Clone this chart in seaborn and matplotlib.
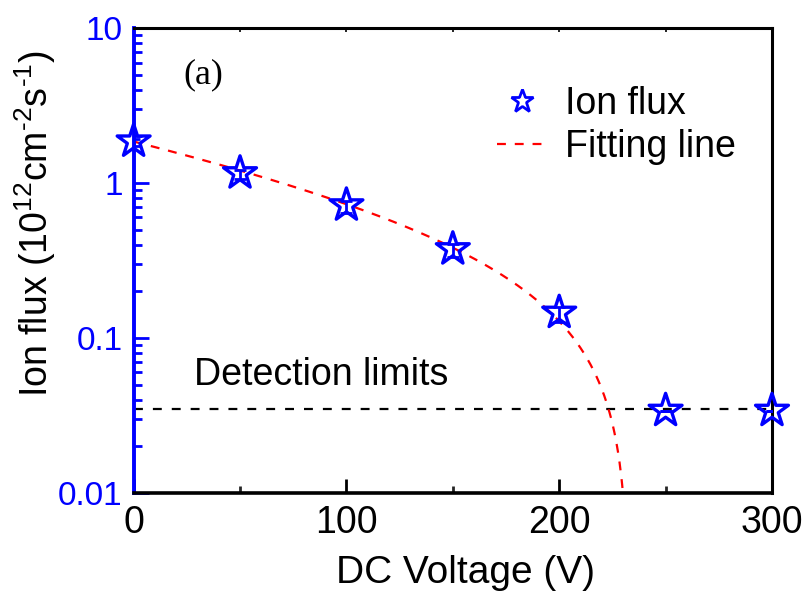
import numpy as np
import pandas as pd
import matplotlib
matplotlib.use("Agg")
import matplotlib.pyplot as plt
from matplotlib.lines import Line2D
from matplotlib.ticker import FixedLocator, NullFormatter, LogLocator
import seaborn as sns

# Measured ion flux versus DC bias voltage
voltage = [0, 50, 100, 150, 200, 250, 300]
ion_flux = [1.86, 1.16, 0.72, 0.375, 0.146, 0.034, 0.034]
err_low = [0.12, 0.10, 0.08, 0.04, 0.02, 0.0, 0.0]
err_high = [0.06, 0.06, 0.05, 0.03, 0.012, 0.0, 0.0]

# Exponential-decay fit: flux = A * exp(-V / t) - d
fit_A = 2.42
fit_t = 160.0
fit_d = 0.565
detection_limit = 0.035

x_ticks = [0, 100, 200, 300]
y_ticks = [0.01, 0.1, 1, 10]
y_tick_labels = ["0.01", "0.1", "1", "10"]

sns.set_theme(style="white")
plt.rcParams["font.family"] = ["Liberation Sans", "DejaVu Sans"]
plt.rcParams["mathtext.fontset"] = "custom"
plt.rcParams["mathtext.rm"] = "Liberation Sans"
plt.rcParams["mathtext.it"] = "Liberation Sans"
plt.rcParams["text.color"] = "black"
plt.rcParams["axes.labelcolor"] = "black"

fig = plt.figure(figsize=(8.05, 5.99), dpi=100)
ax = fig.add_axes([0.166, 0.177, 0.793, 0.776])

df = pd.DataFrame({"V": voltage, "flux": ion_flux})

# Fitted curve, cut where it falls below the axis floor
v_fit = np.linspace(0, 240, 600)
f_fit = fit_A * np.exp(-v_fit / fit_t) - fit_d
mask = f_fit > 0.008
fit_df = pd.DataFrame({"V": v_fit[mask], "flux": f_fit[mask]})
sns.lineplot(data=fit_df, x="V", y="flux", ax=ax, color="red",
             linestyle=(0, (4, 4)), linewidth=1.6, zorder=3)

# Detection limit
det_df = pd.DataFrame({"V": [0, 300], "flux": [detection_limit, detection_limit]})
sns.lineplot(data=det_df, x="V", y="flux", ax=ax, color="black",
             linestyle=(0, (4, 4.5)), linewidth=1.6, zorder=2)

# Error bars
ax.errorbar(voltage, ion_flux, yerr=[err_low, err_high], fmt="none",
            ecolor="blue", elinewidth=2, capsize=4, capthick=2, zorder=4)

# Data points
sns.scatterplot(data=df, x="V", y="flux", ax=ax, marker="*", s=620,
                facecolor="none", edgecolor="blue", linewidth=2.4,
                zorder=5, clip_on=False)

ax.set_yscale("log")
ax.set_xlim(0, 300)
ax.set_ylim(0.01, 10)

ax.set_xticks(x_ticks)
ax.set_xticklabels([str(v) for v in x_ticks])
ax.xaxis.set_minor_locator(FixedLocator([50, 150, 250]))
ax.set_yticks(y_ticks)
ax.set_yticklabels(y_tick_labels)
ax.yaxis.set_minor_locator(LogLocator(base=10, subs=np.arange(2, 10)))
ax.yaxis.set_minor_formatter(NullFormatter())

ax.tick_params(axis="x", which="major", direction="in", length=10, width=2,
               labelsize=27, color="black", labelcolor="black", pad=9,
               bottom=True, top=False)
ax.tick_params(axis="x", which="minor", direction="in", length=5, width=2,
               bottom=True, top=False)
ax.tick_params(axis="y", which="major", direction="in", length=11, width=2,
               labelsize=24, color="blue", labelcolor="blue", pad=8,
               left=True, right=False)
ax.tick_params(axis="y", which="minor", direction="in", length=6, width=2,
               color="blue", left=True, right=False)

# Short ticks along the top frame every 50 V
top = ax.secondary_xaxis("top")
top.set_xticks([0, 50, 100, 150, 200, 250, 300])
top.tick_params(direction="in", length=3, width=1.2, labeltop=False, color="black")
top.spines["top"].set_visible(False)

for side in ["top", "right"]:
    ax.spines[side].set_linewidth(2.2)
    ax.spines[side].set_color("black")
ax.spines["bottom"].set_linewidth(2.6)
ax.spines["bottom"].set_color("black")
ax.spines["left"].set_linewidth(2.8)
ax.spines["left"].set_color("blue")

ax.set_xlabel("DC Voltage (V)", fontsize=28, color="black")
ax.xaxis.set_label_coords(0.52, -0.133)
ax.set_ylabel(r"Ion flux (10$^{12}$cm$^{\text{-2}}$s$^{\text{-1}}$)", fontsize=27,
              color="black")
ax.yaxis.set_label_coords(-0.119, 0.58)

ax.text(0.078, 0.899, "(a)", transform=ax.transAxes, fontsize=26,
        family=["Liberation Serif", "DejaVu Serif"], ha="left", va="center")
ax.text(0.094, 0.254, "Detection limits", transform=ax.transAxes, fontsize=27,
        ha="left", va="center")

handles = [
    Line2D([], [], marker="*", linestyle="none", markersize=17,
           markerfacecolor="none", markeredgecolor="blue", markeredgewidth=2),
    Line2D([], [], color="red", linestyle=(0, (4, 4)), linewidth=1.6),
]
ax.legend(handles, ["Ion flux", "Fitting line"], loc="upper left",
          bbox_to_anchor=(0.570, 0.876), frameon=False, fontsize=27,
          borderpad=0, borderaxespad=0,
          handlelength=1.33, handletextpad=0.48, labelspacing=0.2)

fig.savefig("out.png", dpi=100)
